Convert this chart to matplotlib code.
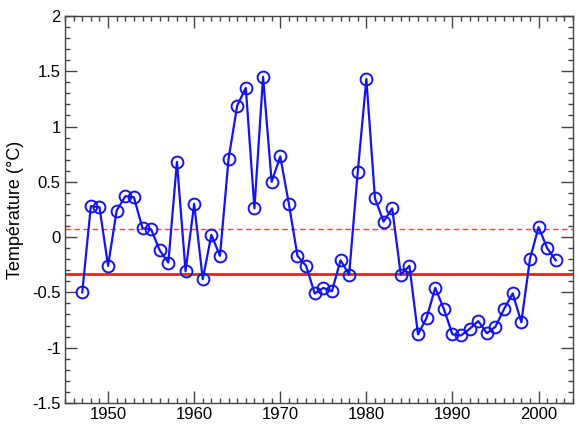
import matplotlib
matplotlib.use("Agg")
import matplotlib.pyplot as plt
from matplotlib.ticker import MultipleLocator

plt.rcParams['font.family'] = ['Liberation Sans', 'DejaVu Sans']

years = list(range(1947, 2003))
temps = [-0.50, 0.28, 0.27, -0.26, 0.24, 0.37, 0.36, 0.08, 0.07, -0.12,
         -0.23, 0.68, -0.31, 0.30, -0.38, 0.02, -0.17, 0.71, 1.19, 1.35,
         0.26, 1.45, 0.50, 0.73, 0.30, -0.17, -0.26, -0.51, -0.46, -0.49,
         -0.21, -0.34, 0.59, 1.43, 0.35, 0.14, 0.26, -0.34, -0.26, -0.88,
         -0.73, -0.46, -0.65, -0.88, -0.89, -0.83, -0.76, -0.87, -0.81, -0.65,
         -0.51, -0.77, -0.20, 0.09, -0.10, -0.21]
mean_dashed = 0.07
mean_solid = -0.33

fig = plt.figure(figsize=(5.79, 4.25), dpi=100)
ax = fig.add_axes([0.1123, 0.052, 0.8773, 0.9104])

ax.axhline(mean_dashed, color='#ff4040', lw=1.0, ls=(0, (4, 2.5)))
ax.axhline(mean_solid, color='#ff1a1a', lw=2.0)
ax.plot(years, temps, color='#1414f0', lw=1.6, marker='o', ms=8.5,
        mfc='none', mec='#1414f0', mew=1.4)

ax.set_xlim(1945, 2004)
ax.set_ylim(-1.5, 2)
ax.xaxis.set_major_locator(MultipleLocator(10))
ax.xaxis.set_minor_locator(MultipleLocator(1))
ax.yaxis.set_major_locator(MultipleLocator(0.5))
ax.yaxis.set_minor_locator(MultipleLocator(0.1))
ax.yaxis.set_major_formatter(plt.FuncFormatter(lambda v, p: '%g' % v))
ax.tick_params(which='both', direction='in', top=True, right=True,
               labelsize=12, color='#444444')
ax.tick_params(which='major', length=8.5, width=1.0, pad=3)
ax.tick_params(which='minor', length=3.8, width=1.0)
for s in ax.spines.values():
    s.set_color('#444444')
    s.set_linewidth(1.0)

ax.set_ylabel('Température (°C)', fontsize=13, labelpad=6)

fig.savefig('out.png', dpi=100)
